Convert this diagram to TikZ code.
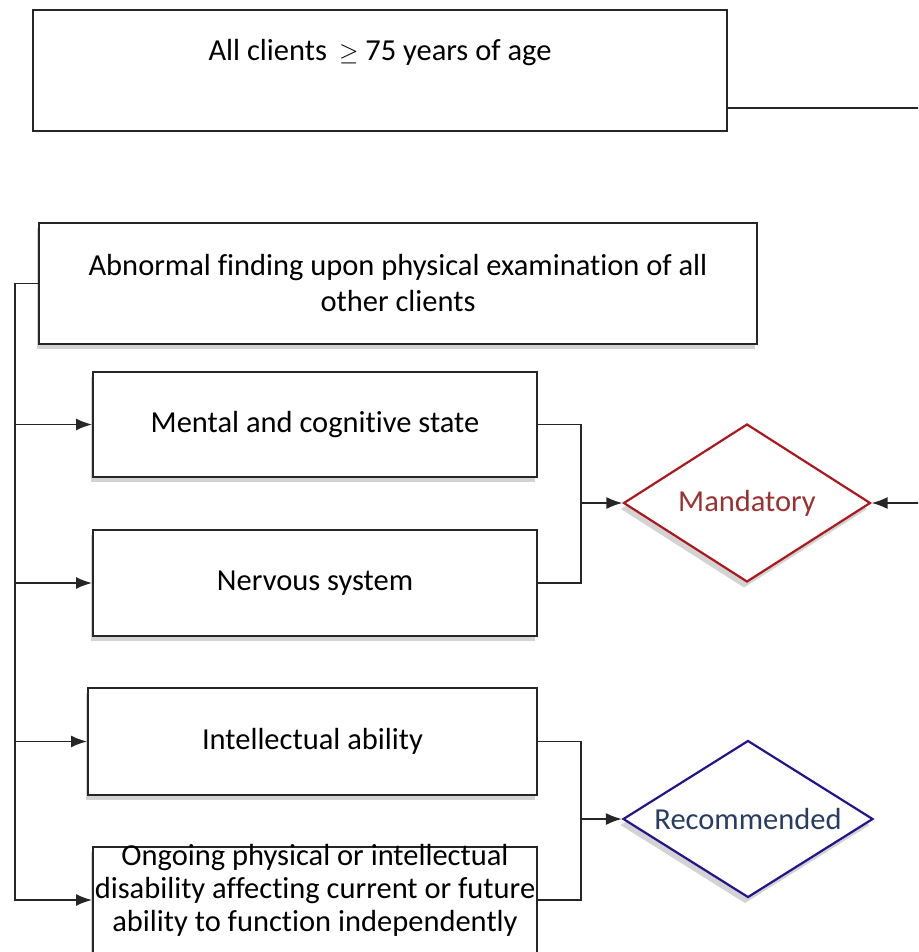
\documentclass[tikz,border=0pt]{standalone}
\usepackage{fontspec}
\setmainfont{Carlito}[Ligatures=NoCommon]
\usetikzlibrary{shapes.geometric,shadows,arrows.meta}
\definecolor{mandred}{RGB}{170,25,30}
\definecolor{mandtxt}{RGB}{155,50,50}
\definecolor{recblue}{RGB}{35,20,140}
\definecolor{rectxt}{RGB}{40,60,100}
\begin{document}
\begin{tikzpicture}[x=1pt,y=-1pt,
    txt/.style={font=\fontsize{30.5}{33}\selectfont,align=center},
    box/.style={draw=black!85,line width=2pt,fill=white,inner sep=0pt,txt,
      drop shadow={shadow xshift=-2pt,shadow yshift=-5pt,opacity=0.35}},
    choice/.style={diamond,draw,line width=2.2pt,fill=white,inner sep=0pt,aspect=1.6,txt,
      drop shadow={shadow xshift=-3pt,shadow yshift=-6pt,opacity=0.35}},
    link/.style={line width=1.6pt,black!85},
    arr/.style={link,-{Latex[length=16pt,width=12pt]}}]
    \useasboundingbox (0,0) rectangle (918,952);
    \clip (0,0) rectangle (918,952);
    % riquadro in alto
    \node[draw=black!85,line width=2pt,minimum width=694pt,minimum height=121pt,
      label={[txt,yshift=18pt]center:All clients \,$\geq$ 75 years of age}] (top) at (380,70.5) {};
    % esame fisico
    \node[box,minimum width=718pt,minimum height=121pt,font=\fontsize{30.5}{36}\selectfont] (abn) at (398,283.5)
      {Abnormal finding upon physical examination of all\\other clients};
    \node[box,minimum width=444pt,minimum height=105pt] (ment) at (315,424.5) {Mental and cognitive state};
    \node[box,minimum width=444pt,minimum height=106pt] (nerv) at (315,583) {Nervous system};
    \node[box,minimum width=449pt,minimum height=107pt] (intel) at (312.5,741.5) {Intellectual ability};
    \node[box,minimum width=444pt,minimum height=106pt,
      label={[txt,yshift=10pt]center:Ongoing physical or intellectual\\disability affecting current or future\\ability to function independently}] (ong) at (315,900) {};
    % rombi
    \node[choice,draw=mandred,text=mandtxt,minimum width=247pt,minimum height=158pt] (mand) at (747,503) {Mandatory};
    \node[choice,draw=recblue,text=rectxt,minimum width=250pt,minimum height=157pt] (rec) at (748,819) {Recommended};
    % collegamenti
    \coordinate (bus) at (15,0);
    \coordinate (rbus) at (581,0);
    \coordinate (rail) at (935,0);
    \draw[arr] (abn.west) -- (abn.west -| bus) |- (ong.west);
    \draw[arr] (bus |- ment.west) -- (ment.west);
    \draw[arr] (bus |- nerv.west) -- (nerv.west);
    \draw[arr] (bus |- intel.west) -- (intel.west);
    \draw[link] (ment.east) -| (rbus |- mand.west) |- (nerv.east);
    \draw[arr] (rbus |- mand.west) -- (mand.west);
    \draw[link] (intel.east) -| (rbus |- rec.west) |- (ong.east);
    \draw[arr] (rbus |- rec.west) -- (rec.west);
    \draw[arr] ([yshift=-37.5pt]top.east) -- ([yshift=-37.5pt]top.east -| rail) |- (mand.east);
\end{tikzpicture}
\end{document}
